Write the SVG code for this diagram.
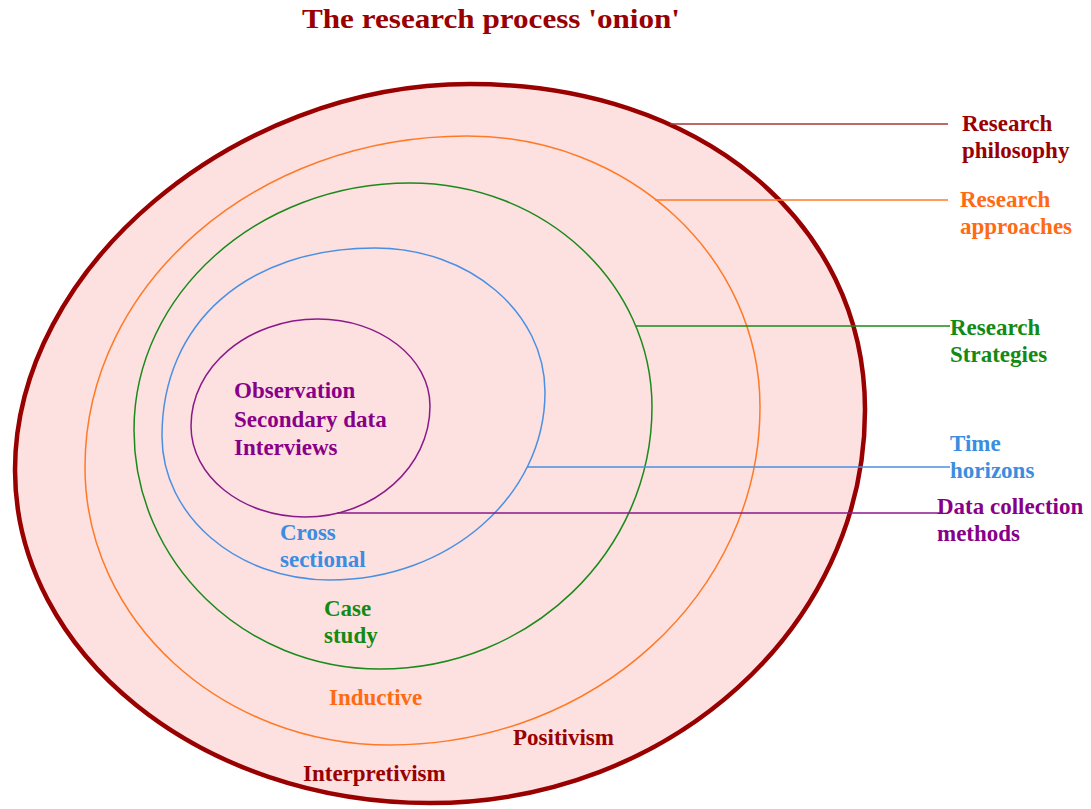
<svg xmlns="http://www.w3.org/2000/svg" width="1091" height="809" viewBox="0 0 1091 809">
<style>
text{font-family:"Liberation Serif","DejaVu Serif",serif;font-weight:bold;font-size:23px}
.t{font-size:28px}
.red{fill:#990000}.org{fill:#ff6a13}.grn{fill:#138a13}.blu{fill:#3b8de0}.pur{fill:#880088}
.ring{fill:none;stroke-width:1.5}
</style>
<rect width="1091" height="809" fill="#ffffff"/>
<text class="t red" x="302" y="28" textLength="378" lengthAdjust="spacingAndGlyphs">The research process 'onion'</text>
<g id="ring-philosophy"><path d="M470,84 C699,84 865,221 865,410 C865,627 670,803 430,803 C201,803 15,654 15,470 C15,269 233,84 470,84 Z" fill="#fde0e0" stroke="#990000" stroke-width="4.5"/></g>
<g id="ring-approaches"><path class="ring" stroke="#ff7a26" d="M467,136 C629,136 760,257 760,407 C760,594 594,745 390,745 C222,745 85,621 85,467 C85,284 256,136 467,136 Z"/></g>
<g id="ring-strategies"><path class="ring" stroke="#1a8a1a" d="M410,183 C544,183 652,283 652,407 C652,552 530,669 380,669 C244,669 134,562 134,430 C134,294 258,183 410,183 Z"/></g>
<g id="ring-time"><path class="ring" stroke="#4a90e2" d="M375,248 C469,248 545,312 545,392 C545,496 449,580 330,580 C237,580 162,516 162,436 C162,323 247,248 375,248 Z"/></g>
<g id="ring-data"><path class="ring" stroke="#8a1a8a" d="M318,319 C380,319 430,358 430,406 C430,467 374,517 305,517 C242,517 191,476 191,426 C191,367 248,319 318,319 Z"/></g>
<g id="connectors" stroke-width="1.6">
<line x1="670" y1="124" x2="948" y2="124" stroke="#aa3333"/>
<line x1="655" y1="200" x2="948" y2="200" stroke="#ff7a26"/>
<line x1="636" y1="326" x2="950" y2="326" stroke="#1a8a1a"/>
<line x1="527" y1="467" x2="950" y2="467" stroke="#4a90e2"/>
<line x1="337" y1="513" x2="940" y2="513" stroke="#8a1a8a"/>
</g>
<g id="labels">
<text class="red" x="962" y="131">Research</text>
<text class="red" x="962" y="158">philosophy</text>
<text class="org" x="960" y="207">Research</text>
<text class="org" x="960" y="234">approaches</text>
<text class="grn" x="950" y="335">Research</text>
<text class="grn" x="950" y="362">Strategies</text>
<text class="blu" x="950" y="451">Time</text>
<text class="blu" x="950" y="478">horizons</text>
<text class="pur" x="937" y="514">Data collection</text>
<text class="pur" x="937" y="541">methods</text>
</g>
<g id="inner-labels">
<text class="pur" x="234" y="398">Observation</text>
<text class="pur" x="234" y="427">Secondary data</text>
<text class="pur" x="234" y="455">Interviews</text>
<text class="blu" x="280" y="540">Cross</text>
<text class="blu" x="280" y="567">sectional</text>
<text class="grn" x="324" y="616">Case</text>
<text class="grn" x="324" y="643">study</text>
<text class="org" x="329" y="705">Inductive</text>
<text class="red" x="513" y="745">Positivism</text>
<text class="red" x="303" y="781">Interpretivism</text>
</g>
</svg>
